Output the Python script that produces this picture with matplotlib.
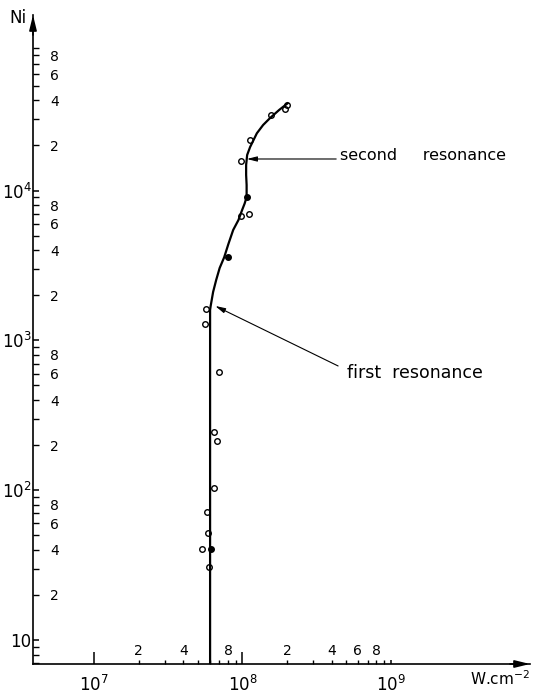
import matplotlib
matplotlib.use('Agg')
import matplotlib.pyplot as plt
from matplotlib.ticker import FixedLocator, FuncFormatter
import numpy as np

plt.rcParams['font.family'] = 'DejaVu Sans'
plt.rcParams['mathtext.fontset'] = 'dejavusans'

# measured points (W.cm-2, Ni)
open_x = [6.44e7, 5.81e7, 5.85e7, 5.37e7, 5.98e7, 5.69e7, 5.63e7, 6.93e7, 6.47e7,
          6.75e7, 2.01e8, 1.94e8, 1.56e8, 1.13e8, 9.84e7, 9.71e7, 1.11e8]
open_y = [104, 71, 51.5, 40.6, 30.5, 1615, 1291, 612, 244,
          214, 37200, 35100, 32000, 21700, 15800, 6760, 6980]
full_x = [6.12e7, 1.07e8, 8.02e7]
full_y = [40.6, 9100, 3590]

# hand drawn trend curve
curve_x = [6.05e7, 6.05e7, 6.10e7, 6.34e7, 6.65e7, 7.02e7, 7.53e7, 8.04e7, 8.66e7,
           9.40e7, 9.95e7, 1.035e8, 1.067e8, 1.067e8, 1.059e8, 1.059e8, 1.076e8,
           1.127e8, 1.251e8, 1.379e8, 1.537e8, 1.768e8, 2.043e8]
curve_y = [6.9, 1596, 1690, 2104, 2531, 3043, 3587, 4401, 5458,
           6364, 7422, 8200, 9065, 10900, 12710, 14820, 17290,
           19550, 24130, 27410, 30520, 34520, 38630]

fig = plt.figure(figsize=(5.33, 6.98), dpi=100)
ax = fig.add_axes([33 / 533, 34 / 698, 497 / 533, 649 / 698])
ax.set_xscale('log')
ax.set_yscale('log')
ax.set_xlim(10 ** 6.587, 10 ** 9.94)
ax.set_ylim(10 ** 0.84, 10 ** 5.172)

for s in ['top', 'right']:
    ax.spines[s].set_visible(False)
for s in ['left', 'bottom']:
    ax.spines[s].set_linewidth(1.2)

# axis arrows
arrow = dict(arrowstyle='-|>,head_length=0.9,head_width=0.22', color='black',
             lw=1.2, shrinkA=0, shrinkB=0)
ax.annotate('', xy=(1, 0), xycoords='axes fraction', xytext=(-20, 0),
            textcoords='offset pixels', arrowprops=arrow, annotation_clip=False)
ax.annotate('', xy=(0, 1), xycoords='axes fraction', xytext=(0, -20),
            textcoords='offset pixels', arrowprops=arrow, annotation_clip=False)

# ticks
x_major = [1e7, 1e8, 1e9]
x_minor = [m * 10 ** d for d in (7, 8) for m in range(2, 10)]
y_major = [1e1, 1e2, 1e3, 1e4]
y_minor = [7, 8, 9] + [m * 10 ** d for d in (1, 2, 3, 4) for m in range(2, 10)]

ax.xaxis.set_major_locator(FixedLocator(x_major))
ax.xaxis.set_minor_locator(FixedLocator(x_minor))
ax.yaxis.set_major_locator(FixedLocator(y_major))
ax.yaxis.set_minor_locator(FixedLocator(y_minor))


def major_fmt(v, pos):
    e = int(round(np.log10(v)))
    return '10' if e == 1 else r'$10^{%d}$' % e


def minor_fmt_x(v, pos):
    e = int(np.floor(np.log10(v) + 1e-9))
    m = int(round(v / 10 ** e))
    # the 6 of the first decade sits under the curve
    if m in (2, 4, 6, 8) and not (e == 7 and m == 6):
        return str(m)
    return ''


def minor_fmt_y(v, pos):
    e = int(np.floor(np.log10(v) + 1e-9))
    m = int(round(v / 10 ** e))
    if e >= 1 and m in (2, 4, 6, 8):
        return str(m)
    return ''


ax.xaxis.set_major_formatter(FuncFormatter(major_fmt))
ax.yaxis.set_major_formatter(FuncFormatter(major_fmt))
ax.xaxis.set_minor_formatter(FuncFormatter(minor_fmt_x))
ax.yaxis.set_minor_formatter(FuncFormatter(minor_fmt_y))

ax.tick_params(axis='x', which='major', direction='in', length=9, width=1.1,
               labelsize=12, pad=8)
ax.tick_params(axis='x', which='minor', direction='in', length=2.6, width=1.0,
               labelsize=10, pad=-4.6)
ax.tick_params(axis='y', which='major', direction='in', length=4.5, width=1.1,
               labelsize=12, pad=1)
ax.tick_params(axis='y', which='minor', direction='in', length=4, width=1.0,
               labelsize=10, pad=-18.5)
ax.xaxis.get_major_ticks()[2].tick1line.set_markersize(2.6)
for lbl in ax.xaxis.get_minorticklabels():
    lbl.set_va('bottom')

# data
ax.plot(curve_x, curve_y, color='black', lw=1.6, solid_joinstyle='round',
        solid_capstyle='butt', zorder=2)
ax.plot(open_x, open_y, 'o', ms=4, mfc='none', mec='black', mew=1.0, zorder=3)
ax.plot(full_x, full_y, 'o', ms=4, mfc='black', mec='black', mew=1.0, zorder=3)

# annotations
thin = dict(arrowstyle='-|>,head_length=0.6,head_width=0.15', color='black',
            lw=0.8, shrinkA=0, shrinkB=0)
ax.annotate('', xy=(1.07e8, 16250), xytext=(4.29e8, 16250), arrowprops=thin)
ax.text(4.56e8, 16000, 'second     resonance', fontsize=11.5, va='baseline', ha='left')
ax.annotate('', xy=(6.55e7, 1698), xytext=(4.42e8, 675), arrowprops=thin)
ax.text(5.08e8, 561, 'first  resonance', fontsize=12.5, va='baseline', ha='left')

fig.text(18 / 533, 1 - 18 / 698, 'Ni', fontsize=12, ha='center', va='center')
fig.text(470 / 533, 1 - 685 / 698, r'W.cm$^{-2}$', fontsize=11, ha='left', va='baseline')

fig.savefig('out.png', dpi=100)
